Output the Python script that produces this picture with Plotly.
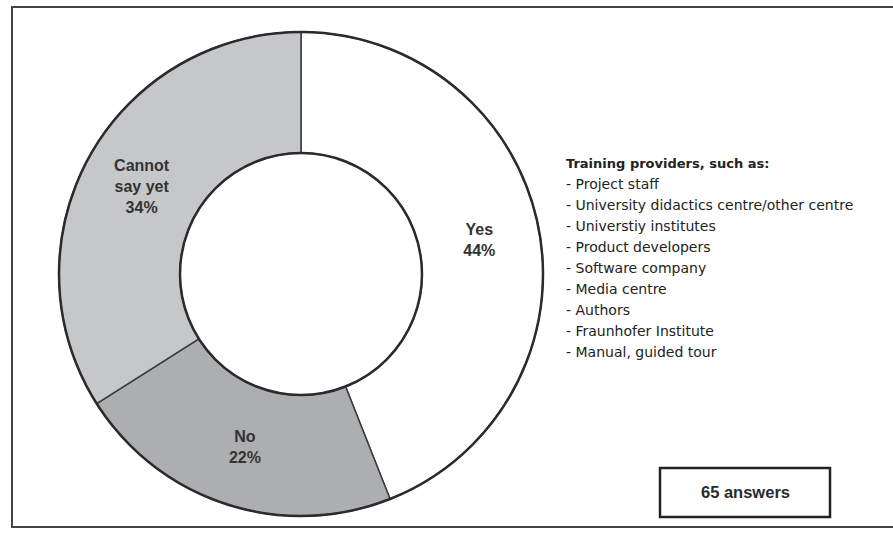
import plotly.graph_objects as go

# Survey answers (percent of 65 answers)
answers = ["Yes", "No", "Cannot say yet"]
answer_text = ["Yes", "No", "Cannot<br>say yet"]
shares = [44, 22, 34]
slice_colors = ["#ffffff", "#adaeb0", "#c6c7c9"]

provider_title = "Training providers, such as:"
providers = [
    "Project staff",
    "University didactics centre/other centre",
    "Universtiy institutes",
    "Product developers",
    "Software company",
    "Media centre",
    "Authors",
    "Fraunhofer Institute",
    "Manual, guided tour",
]
answer_count = "65 answers"

# Canvas and donut geometry (pixels)
W, H = 893, 539
CX, CY = 301, 274          # donut centre, measured from top-left
R = 242                    # outer radius
HOLE = 0.5

dom_x = [(CX - R) / W, (CX + R) / W]
dom_y = [(H - CY - R) / H, (H - CY + R) / H]

fig = go.Figure()
fig.add_trace(go.Pie(
    labels=answers,
    values=shares,
    text=answer_text,
    texttemplate="<b>%{text}<br>%{value}%</b>",
    textinfo="text",
    textposition="inside",
    insidetextorientation="horizontal",
    textfont=dict(family="Liberation Sans, Arial, sans-serif", size=16, color="#333333"),
    hole=HOLE,
    sort=False,
    direction="clockwise",
    rotation=0,
    marker=dict(colors=slice_colors, line=dict(color="#3a3a3a", width=1.5)),
    domain=dict(x=dom_x, y=dom_y),
    showlegend=False,
    hoverinfo="label+percent",
))


def px_x(x):
    return x / W


def px_y(y):
    return 1 - y / H


shapes = []
# heavier outer and inner rims of the ring
for rr in (R, R * HOLE):
    shapes.append(dict(
        type="circle", xref="paper", yref="paper",
        x0=px_x(CX - rr), x1=px_x(CX + rr),
        y0=px_y(CY + rr), y1=px_y(CY - rr),
        line=dict(color="#2b2b2b", width=2.5),
    ))

# frame around the whole figure (right edge runs off the page)
shapes.append(dict(
    type="rect", xref="paper", yref="paper",
    x0=px_x(12), x1=px_x(905), y0=px_y(527), y1=px_y(7),
    line=dict(color="#444444", width=2),
))

# box holding the answer count
box = (660, 468, 830, 517)
shapes.append(dict(
    type="rect", xref="paper", yref="paper",
    x0=px_x(box[0]), x1=px_x(box[2]), y0=px_y(box[3]), y1=px_y(box[1]),
    line=dict(color="#222222", width=2.5), fillcolor="rgba(0,0,0,0)",
))

annotations = []
LX, TITLE_Y, LINE = 564, 163, 21
annotations.append(dict(
    x=px_x(LX), y=px_y(TITLE_Y), xref="paper", yref="paper",
    xanchor="left", yanchor="middle", showarrow=False,
    text="<b>" + provider_title + "</b>",
    font=dict(family="DejaVu Sans, Verdana, sans-serif", size=13, color="#222222"),
))
for i, item in enumerate(providers):
    annotations.append(dict(
        x=px_x(LX), y=px_y(TITLE_Y + LINE * (i + 1)), xref="paper", yref="paper",
        xanchor="left", yanchor="middle", showarrow=False,
        text="- " + item,
        font=dict(family="DejaVu Sans, Verdana, sans-serif", size=14, color="#222222"),
    ))

annotations.append(dict(
    x=px_x((box[0] + box[2]) / 2), y=px_y((box[1] + box[3]) / 2 - 1),
    xref="paper", yref="paper", xanchor="center", yanchor="middle",
    showarrow=False, text="<b>" + answer_count + "</b>",
    font=dict(family="Liberation Sans, Arial, sans-serif", size=16.5, color="#2a2a2a"),
))

fig.update_layout(
    width=W, height=H,
    margin=dict(l=0, r=0, t=0, b=0),
    paper_bgcolor="white",
    plot_bgcolor="white",
    shapes=shapes,
    annotations=annotations,
)

fig.write_html("out.html")
